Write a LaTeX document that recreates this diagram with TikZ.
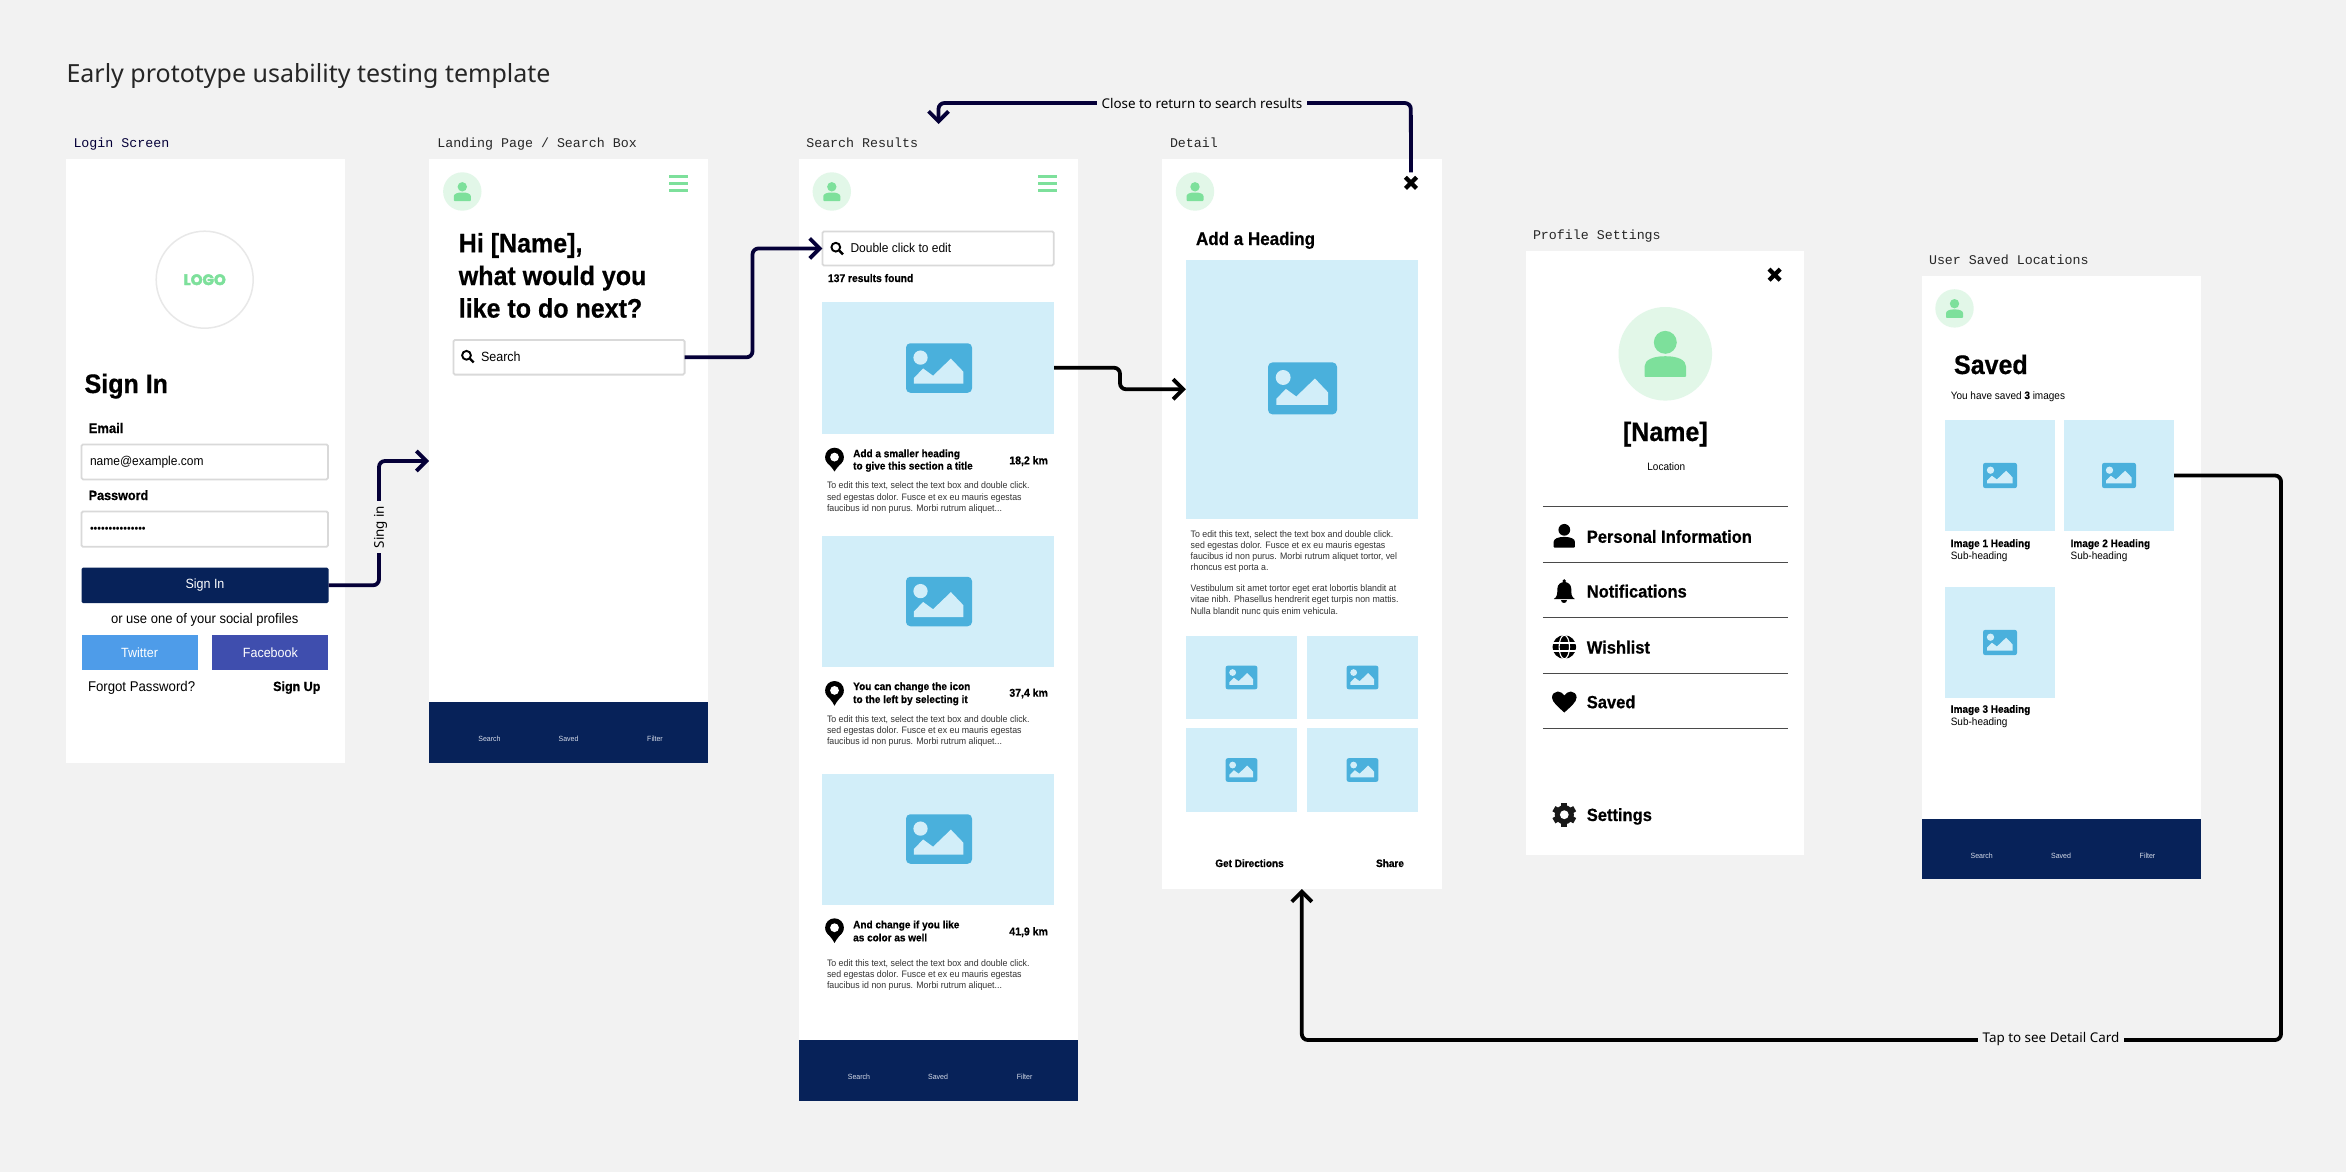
\documentclass[tikz,border=0pt]{standalone}
\usepackage{fontspec}
\usetikzlibrary{arrows.meta}
\setmainfont[Scale=1.07,FakeStretch=0.935,BoldFeatures={FakeBold=0.6}]{Liberation Sans}
\newfontfamily\notof{Noto Sans}
\newfontfamily\monof{Liberation Mono}
\newfontfamily\logof[BoldFeatures={FakeBold=3}]{Poppins}
\definecolor{pagebg}{HTML}{F2F2F2}
\definecolor{navybar}{HTML}{072259}
\definecolor{arrownavy}{HTML}{050038}
\definecolor{imgbg}{HTML}{D2EEF9}
\definecolor{iconblue}{HTML}{4AB0DC}
\definecolor{leaf}{HTML}{7DE09B}
\definecolor{mint}{HTML}{E2F7E8}
\definecolor{fieldline}{HTML}{D9D9D9}
\definecolor{logoring}{HTML}{E8E8E8}
\definecolor{paratext}{HTML}{333333}
\definecolor{rulegray}{HTML}{4A4A4A}
\definecolor{twitterblue}{HTML}{4E9CE9}
\definecolor{fbblue}{HTML}{3F4EAE}
\definecolor{barlabel}{HTML}{D5DBE8}
\newcommand{\rct}[6]{\node[#6,anchor=north west,inner sep=0pt,outer sep=0pt,minimum width={(#4-#2)*1pt},minimum height={(#5-#3)*1pt}] (#1) at (#2,#3) {};}
\newcommand{\tx}[5]{\node[txt,#4] (#1) at (#2,#3) {#5};}
\newcommand{\lin}[1]{\hbox{#1}}
\newcommand{\lns}[2]{\vtop{\baselineskip=#1pt\lineskiplimit=-100pt\lineskip=0pt #2}}
\newcommand{\imgicon}[4]{%
  \begin{scope}[shift={(#1-#3/2,#2-#4/2)},x=#3pt,y=-#4pt]
    \fill[iconblue,rounded corners=#3*0.065pt] (0,0) rectangle (1,1);
    \fill[imgbg] (.22,.29) ellipse [x radius=.108,y radius=.144];
    \fill[imgbg] (.12,.816) -- (.12,.70) -- (.26,.51) -- (.41,.656) -- (.68,.31) -- (.87,.576) -- (.87,.816) -- cycle;
  \end{scope}}
\newcommand{\person}[4]{%
  \begin{scope}[shift={(#1,#2)},scale=#3]
    \fill[#4] (0,-4.7) circle [radius=4.7pt];
    \fill[#4,rounded corners=0.8pt] (-8.5,9.5) -- (-8.5,5.5) .. controls (-8.5,2.5) and (-5,1) .. (0,1) .. controls (5,1) and (8.5,2.5) .. (8.5,5.5) -- (8.5,9.5) -- cycle;
  \end{scope}}
\newcommand{\avatar}[2]{\fill[mint] (#1,#2) circle [radius=19.2pt];\person{#1}{#2}{1}{leaf}}
\newcommand{\burger}[2]{\foreach \yy in {-7,0,7}{\draw[leaf,line width=2.8pt] (#1,#2+\yy) -- (#1+19,#2+\yy);}}
\newcommand{\searchglyph}[2]{%
  \draw[black,line width=1.9pt] (#1-1.2,#2-1.2) circle [radius=4.4pt];
  \draw[black,line width=2.4pt] (#1+2.2,#2+2.2) -- (#1+6,#2+6);}
\newcommand{\pin}[3]{%
  \fill[black] (#1,#2+9.4) circle [radius=9.4pt];
  \fill[black] (#1-9.2,#2+11) .. controls (#1-8,#2+15) and (#1-2,#2+20) .. (#1,#2+#3) .. controls (#1+2,#2+20) and (#1+8,#2+15) .. (#1+9.2,#2+11) -- cycle;
  \fill[white] (#1,#2+9.4) circle [radius=4.4pt];}
\newcommand{\xmark}[1]{%
  \draw[xstroke] (#1.north west) -- (#1.south east);
  \draw[xstroke] (#1.north east) -- (#1.south west);}
\newcommand{\paraA}{\lns{11.1}{\lin{To edit this text, select the text box and double click.}\lin{sed egestas dolor. Fusce et ex eu mauris egestas}\lin{faucibus id non purus. Morbi rutrum aliquet...}}}
\tikzset{
  txt/.style={anchor=base west,inner sep=0pt,outer sep=0pt,text=black},
  rg/.style={font=\fontsize{#1}{#1}\selectfont},
  bd/.style={font=\fontsize{#1}{#1}\selectfont\bfseries},
  mn/.style={font=\fontsize{13.3}{13.3}\selectfont\monof},
  screen/.style={fill=white},
  photo/.style={fill=imgbg},
  bar/.style={fill=navybar},
  field/.style={fill=white,draw=fieldline,line width=1.8pt,rounded corners=1.5pt},
  barlbl/.style={txt,anchor=center,text=barlabel,font=\fontsize{7}{7}\selectfont},
  paratxt/.style={txt,text=paratext,font=\fontsize{8.8}{8.8}\selectfont},
  conn/.style={line width=3.8pt,rounded corners=6pt},
  tipped/.style={-{Straight Barb[length=10pt,width=20pt,line width=3.8pt]}},
  lbl/.style={fill=pagebg,inner xsep=5pt,inner ysep=2pt,outer sep=0pt,font=\fontsize{13.4}{13.4}\selectfont\notof,text=black},
  closex/.style={inner sep=0pt,outer sep=0pt,minimum size=21pt},
  xstroke/.style={black,line width=4.2pt,shorten <=7pt,shorten >=7pt},
  menutxt/.style={txt,bd=16.5},
}
\begin{document}
\begin{tikzpicture}[x=1pt,y=-1pt]
\useasboundingbox (0,0) rectangle (2346,1172);
\fill[pagebg] (0,0) rectangle (2346,1172);

% title and screen captions
\tx{title}{66.5}{82.5}{font=\fontsize{25}{25}\selectfont\notof,text=black!85}{Early prototype usability testing template}
\tx{capA}{73.5}{147}{mn,text=arrownavy}{Login Screen}
\tx{capB}{437.3}{147}{mn,text=black!85}{Landing Page / Search Box}
\tx{capC}{806.3}{147}{mn,text=black!85}{Search Results}
\tx{capD}{1170}{147}{mn,text=black!85}{Detail}
\tx{capE}{1533}{239.4}{mn,text=black!85}{Profile Settings}
\tx{capF}{1929}{264.6}{mn,text=black!85}{User Saved Locations}

% screens
\rct{s1}{65.5}{159}{344.5}{763}{screen}
\rct{s2}{429}{159}{708}{763}{screen}
\rct{s3}{799.2}{159}{1078}{1101}{screen}
\rct{s4}{1162}{159}{1441.6}{889}{screen}
\rct{s5}{1525.6}{250.7}{1804.4}{855}{screen}
\rct{s6}{1921.5}{276}{2200.8}{879}{screen}

% --- login
\node[circle,draw=logoring,fill=white,line width=1.5pt,minimum size=97pt,inner sep=0pt] (logoring) at (204.7,279.7) {};
\tx{logo}{204.7}{285}{anchor=base,font=\fontsize{15}{15}\selectfont\logof\bfseries,text=leaf}{LOGO}
\tx{signhead}{84.6}{393}{bd=25}{Sign In}
\tx{emaillbl}{88.7}{433}{bd=13}{Email}
\rct{emailf}{81.5}{444.4}{328}{479.4}{field}
\tx{emailv}{90}{465.7}{rg=12}{name@example.com}
\tx{pwlbl}{88.7}{500}{bd=12.6}{Password}
\rct{pwf}{81.5}{511.5}{328}{546.8}{field}
\tx{pwv}{90}{532}{rg=10.6}{•••••••••••••••}
\node[fill=navybar,rounded corners=1.5pt,inner sep=0pt,outer sep=0pt,minimum width=247pt,minimum height=35.4pt,text=white,font=\fontsize{12.5}{12.5}\selectfont] (signinbtn) at (205,585.3) {Sign In};
\tx{orline}{204.7}{623}{anchor=base,rg=13}{or use one of your social profiles}
\node[fill=twitterblue,inner sep=0pt,outer sep=0pt,minimum width=116pt,minimum height=35pt,text=white,font=\fontsize{12.5}{12.5}\selectfont] (twbtn) at (139.5,652.5) {Twitter};
\node[fill=fbblue,inner sep=0pt,outer sep=0pt,minimum width=116pt,minimum height=35pt,text=white,font=\fontsize{12.5}{12.5}\selectfont] (fbbtn) at (270.4,652.5) {Facebook};
\tx{forgot}{88}{691}{rg=13.2}{Forgot Password?}
\tx{signup}{320.4}{691}{anchor=base east,bd=12.5}{Sign Up}

% --- landing
\avatar{462.3}{191.5}
\burger{669}{183.3}
\tx{hihead}{458.8}{252.4}{bd=25}{\lns{32.6}{\lin{Hi [Name],}\lin{what would you}\lin{like to do next?}}}
\rct{searchbox}{453.4}{340}{684.6}{374.6}{field}
\searchglyph{467.7}{356.5}
\tx{searchtxt}{481}{361}{rg=12.5}{Search}
\rct{barB}{429}{702}{708}{763}{bar}
\node[barlbl] (barBa) at (489.5,739) {Search};
\node[barlbl] (barBb) at (568.6,739) {Saved};
\node[barlbl] (barBc) at (655,739) {Filter};

% --- search results
\avatar{831.8}{191.5}
\burger{1038}{183.5}
\rct{resultbox}{822.4}{231.4}{1053.7}{265.5}{field}
\searchglyph{837}{248.4}
\tx{dbl}{850.5}{252.4}{rg=12}{Double click to edit}
\tx{found}{828}{282}{bd=10.3}{137 results found}

\rct{rimgA}{822}{302}{1054}{433.5}{photo}
\imgicon{939}{368}{66}{49.5}
\pin{834.5}{447.7}{23.8}
\tx{rheadA}{853.2}{457.2}{bd=10}{\lns{12.3}{\lin{Add a smaller heading}\lin{to give this section a title}}}
\tx{kmA}{1047.9}{464.3}{anchor=base east,bd=10.5}{18,2 km}
\node[paratxt] (rparaA) at (827,488.9) {\paraA};

\rct{rimgB}{822}{536}{1054}{667}{photo}
\imgicon{939}{601.5}{66}{49.5}
\pin{834.5}{681}{24.7}
\tx{rheadB}{853.2}{690}{bd=10}{\lns{13}{\lin{You can change the icon}\lin{to the left by selecting it}}}
\tx{kmB}{1047.9}{696.7}{anchor=base east,bd=10.5}{37,4 km}
\node[paratxt] (rparaB) at (827,722.3) {\paraA};

\rct{rimgC}{822}{774}{1054}{904.7}{photo}
\imgicon{939}{839}{66}{49.5}
\pin{834.5}{918.3}{24.7}
\tx{rheadC}{853.2}{928.3}{bd=10}{\lns{13}{\lin{And change if you like}\lin{as color as well}}}
\tx{kmC}{1047.9}{935.3}{anchor=base east,bd=10.5}{41,9 km}
\node[paratxt] (rparaC) at (827,966.7) {\paraA};

\rct{barC}{799.2}{1040}{1078}{1101}{bar}
\node[barlbl] (barCa) at (859,1077.3) {Search};
\node[barlbl] (barCb) at (938,1077.3) {Saved};
\node[barlbl] (barCc) at (1024.6,1077.3) {Filter};

% --- detail
\avatar{1195}{191.5}
\node[closex] (xdetail) at (1411,182.8) {};
\xmark{xdetail}
\tx{dhead}{1196}{245}{bd=17}{Add a Heading}
\rct{dimg}{1185.8}{259.5}{1418}{519}{photo}
\imgicon{1302.5}{388.4}{69}{52}
\node[paratxt] (dparaA) at (1190.7,537.9) {\lns{10.8}{\lin{To edit this text, select the text box and double click.}\lin{sed egestas dolor. Fusce et ex eu mauris egestas}\lin{faucibus id non purus. Morbi rutrum aliquet tortor, vel}\lin{rhoncus est porta a.}}};
\node[paratxt] (dparaB) at (1190.7,591.8) {\lns{11.1}{\lin{Vestibulum sit amet tortor eget erat lobortis blandit at}\lin{vitae nibh. Phasellus hendrerit eget turpis non mattis.}\lin{Nulla blandit nunc quis enim vehicula.}}};
\rct{dthA}{1186.2}{636}{1296.9}{719}{photo}
\rct{dthB}{1307}{636}{1418}{719}{photo}
\rct{dthC}{1186.2}{728}{1296.9}{812}{photo}
\rct{dthD}{1307}{728}{1418}{812}{photo}
\imgicon{1241.5}{677.5}{31.7}{23.6}
\imgicon{1362.5}{677.5}{31.7}{23.6}
\imgicon{1241.5}{770}{31.7}{23.6}
\imgicon{1362.5}{770}{31.7}{23.6}
\tx{dirs}{1249.5}{867}{anchor=base,bd=10}{Get Directions}
\tx{share}{1390}{867}{anchor=base,bd=10}{Share}

% --- profile settings
\node[closex] (xprofile) at (1774.6,274.7) {};
\xmark{xprofile}
\fill[mint] (1665.3,353.8) circle [radius=46.8pt];
\person{1665.3}{353.8}{2.44}{leaf}
\tx{pname}{1665.3}{441}{anchor=base,bd=25}{[Name]}
\tx{ploc}{1666.3}{470}{anchor=base,rg=10}{Location}
\foreach \ry in {506.2,562.2,617.3,673.3,728.8}{\draw[rulegray,line width=1.2pt] (1542.9,\ry) -- (1787.7,\ry);}
\person{1564.3}{535.7}{1.25}{black}
\begin{scope}[shift={(1564.3,591)}]
  \fill[black] (-10.5,8) .. controls (-7,6) and (-7,3) .. (-7,-2) .. controls (-7,-7) and (-3,-9) .. (0,-9) .. controls (3,-9) and (7,-7) .. (7,-2) .. controls (7,3) and (7,6) .. (10.5,8) -- cycle;
  \fill[black] (0,-10) circle [radius=1.9pt];
  \fill[black] (-3,9.3) .. controls (-3,13) and (3,13) .. (3,9.3) -- cycle;
\end{scope}
\begin{scope}[shift={(1564.3,647)}]
  \fill[black] (0,0) circle [radius=11.8pt];
  \draw[white,line width=1.1pt] (-12,-4) -- (12,-4) (-12,4) -- (12,4);
  \draw[white,line width=1.1pt] (0,0) ellipse [x radius=5.2pt,y radius=11.8pt];
\end{scope}
\fill[black] (1564.3,712.5) .. controls (1558.3,707) and (1552,702) .. (1552,697.5) .. controls (1552,694) and (1554.8,691.5) .. (1557.8,691.5) .. controls (1560.8,691.5) and (1562.8,693.5) .. (1564.3,695.5) .. controls (1565.8,693.5) and (1567.8,691.5) .. (1570.8,691.5) .. controls (1573.8,691.5) and (1576.6,694) .. (1576.6,697.5) .. controls (1576.6,702) and (1570.3,707) .. (1564.3,712.5) -- cycle;
\begin{scope}[shift={(1564.3,814.7)}]
  \foreach \a in {0,60,120,180,240,300}{\fill[black!90,rotate=\a] (-3,-12) rectangle (3,0);}
  \fill[black!90] (0,0) circle [radius=9.6pt];
  \fill[white] (0,0) circle [radius=4.4pt];
\end{scope}
\tx{mA}{1586.8}{542.8}{menutxt}{Personal Information}
\tx{mB}{1586.8}{597.5}{menutxt}{Notifications}
\tx{mC}{1586.8}{653.5}{menutxt}{Wishlist}
\tx{mD}{1586.8}{708.2}{menutxt}{Saved}
\tx{mE}{1586.8}{821}{menutxt}{Settings}

% --- saved
\avatar{1954.5}{308.4}
\tx{shead}{1954}{374}{bd=25}{Saved}
\tx{scount}{1950.8}{399}{rg=10}{You have saved \textbf{3} images}
\rct{simgA}{1945}{420}{2055}{531}{photo}
\rct{simgB}{2064.3}{420}{2174}{531}{photo}
\rct{simgC}{1945}{587}{2055}{698}{photo}
\imgicon{2000}{475.5}{34}{25.3}
\imgicon{2119}{475.5}{34}{25.3}
\imgicon{2000}{642.5}{34}{25.3}
\tx{sA}{1950.8}{547}{bd=10}{Image 1 Heading}
\tx{sAb}{1950.8}{559.6}{rg=10}{Sub-heading}
\tx{sB}{2070.6}{547}{bd=10}{Image 2 Heading}
\tx{sBb}{2070.6}{559.6}{rg=10}{Sub-heading}
\tx{sC}{1950.8}{712.8}{bd=10}{Image 3 Heading}
\tx{sCb}{1950.8}{725.5}{rg=10}{Sub-heading}
\rct{barF}{1921.5}{818.5}{2200.8}{879}{bar}
\node[barlbl] (barFa) at (1981.7,856) {Search};
\node[barlbl] (barFb) at (2061,856) {Saved};
\node[barlbl] (barFc) at (2147.5,856) {Filter};

% --- connectors
\coordinate (signturn) at (379,461);
\coordinate (s2in) at (s2.west |- signturn);
\draw[conn,arrownavy,tipped] (signinbtn.east) -- (signinbtn.east -| signturn) -- (signturn) -- (s2in);
\node[lbl,rotate=90] (signlbl) at (380.5,527) {Sing in};

\coordinate (searchturn) at (752.5,300);
\draw[conn,arrownavy,tipped] (searchbox.east) -- (searchbox.east -| searchturn) -- (searchturn |- resultbox.west) -- (resultbox.west);

\coordinate (detailturn) at (1120,380);
\draw[conn,black,tipped] (rimgA.east) -- (rimgA.east -| detailturn) -- (detailturn |- dimg.west) -- (dimg.west);

\coordinate (closetop) at (1410.8,103);
\coordinate (closeback) at (938.5,124);
\draw[conn,arrownavy,tipped] (xdetail.north) -- (closetop) -- (closeback |- closetop) -- (closeback);
\node[lbl] (closelbl) at (1202,103) {Close to return to search results};

\coordinate (tapright) at (2281,1040);
\draw[conn,black,tipped] (simgB.east) -- (simgB.east -| tapright) -- (tapright) -- (s4.south |- tapright) -- (s4.south);
\node[lbl] (taplbl) at (2051,1039.5) {Tap to see Detail Card};
\end{tikzpicture}
\end{document}
